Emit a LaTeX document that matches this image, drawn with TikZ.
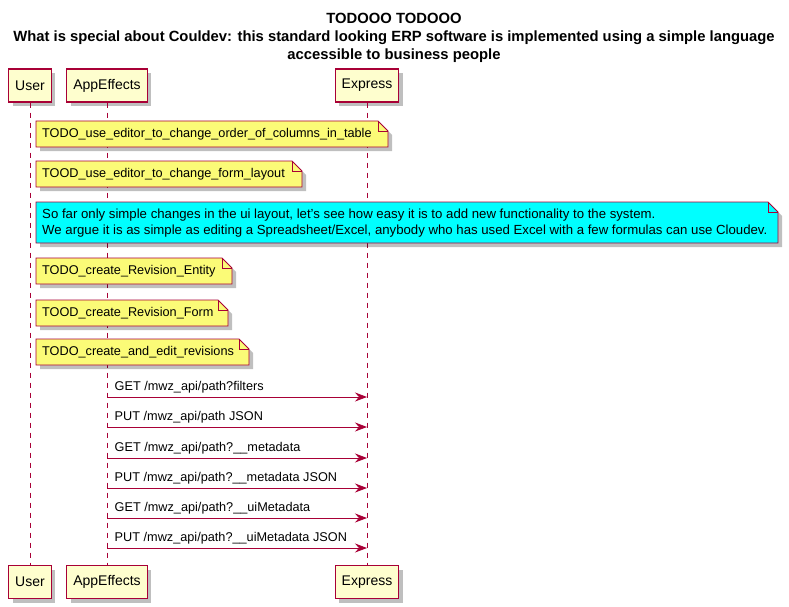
\documentclass[tikz,border=0pt]{standalone}
\usepackage{fontspec}
\setmainfont{Liberation Sans}
\usetikzlibrary{arrows.meta,shadows}
\definecolor{umlred}{HTML}{A80036}
\definecolor{umlbox}{HTML}{FEFECE}
\definecolor{umlnote}{HTML}{FBFB77}
\definecolor{umlcyan}{HTML}{00FFFF}

\begin{document}
\begin{tikzpicture}[x=1pt,y=-1pt,
    shade/.style={drop shadow={shadow xshift=4pt,shadow yshift=-4pt,fill=black,opacity=0.25}},
    actor/.style={draw=umlred, fill=umlbox, line width=1.2pt, minimum height=33pt,
      inner xsep=6.5pt, font=\fontsize{14}{16}\selectfont, shade},
    lifeline/.style={umlred, line width=1pt, dash pattern=on 5pt off 5pt},
    notebox/.style={draw=umlred, fill=umlnote, line width=0.8pt, shade},
    notetext/.style={anchor=west, inner sep=0pt, align=left,
      font=\fontsize{12.7}{16.5}\selectfont},
    msg/.style={umlred, line width=0.8pt, -{Stealth[length=12pt,width=9pt,inset=4pt]}},
    msgtext/.style={anchor=south west, xshift=4pt, text=black,
      font=\fontsize{12.7}{15}\selectfont}]
  \useasboundingbox (0,0) rectangle (789,607);

  % title
  \node[align=center, font=\fontsize{14.8}{18}\bfseries\selectfont] (title) at (394,37.5)
    {TODOOO TODOOO\\What is special about Couldev: this standard looking ERP software is implemented using a simple language\\accessible to business people};

  % participants
  \node[actor] (user) at (30,85.5) {User};
  \node[actor] (app) at (107,85.5) {AppEffects};
  \node[actor] (express) at (367,85.5) {Express};
  \node[actor] (userb) at (30,582) {User};
  \node[actor] (appb) at (107,582) {AppEffects};
  \node[actor] (expressb) at (367,582) {Express};

  \draw[lifeline] (user) -- (userb);
  \draw[lifeline] (app) -- (appb);
  \draw[lifeline] (express) -- (expressb);

  % notes
  \foreach \i/\y/\r/\txt in {1/121/388/TODO\_use\_editor\_to\_change\_order\_of\_columns\_in\_table,
      2/161/302/TOOD\_use\_editor\_to\_change\_form\_layout,
      4/258/232/TODO\_create\_Revision\_Entity,
      5/300/228/TOOD\_create\_Revision\_Form,
      6/339/249/TODO\_create\_and\_edit\_revisions} {
    \filldraw[notebox] (36,\y) -- (\r-10,\y) -- (\r,\y+10) -- (\r,\y+26) -- (36,\y+26) -- cycle;
    \draw[umlred, line width=0.8pt] (\r-10,\y) -- (\r-10,\y+10) -- (\r,\y+10);
    \node[notetext] (n\i) at (42,\y+13.5) {\txt};
  }
  \filldraw[notebox, fill=umlcyan] (36,202) -- (768,202) -- (778,212) -- (778,243) -- (36,243) -- cycle;
  \draw[umlred, line width=0.8pt] (768,202) -- (768,212) -- (778,212);
  \node[notetext, font=\fontsize{13.2}{16.5}\selectfont] (n3) at (42,223)
    {So far only simple changes in the ui layout, let's see how easy it is to add new functionality to the system.\\
     We argue it is as simple as editing a Spreadsheet/Excel, anybody who has used Excel with a few formulas can use Cloudev.};

  % messages
  \foreach \i/\y/\txt in {1/397/{GET /mwz\_api/path?filters},
      2/427/{PUT /mwz\_api/path JSON},
      3/458/{GET /mwz\_api/path?\_\_metadata},
      4/488/{PUT /mwz\_api/path?\_\_metadata JSON},
      5/518/{GET /mwz\_api/path?\_\_uiMetadata},
      6/548/{PUT /mwz\_api/path?\_\_uiMetadata JSON}} {
    \coordinate (a\i) at (app.center |- 0,\y);
    \coordinate (e\i) at (express.center |- 0,\y);
    \draw[msg] (a\i) -- (e\i) node[msgtext, pos=0] {\txt};
  }
\end{tikzpicture}
\end{document}
